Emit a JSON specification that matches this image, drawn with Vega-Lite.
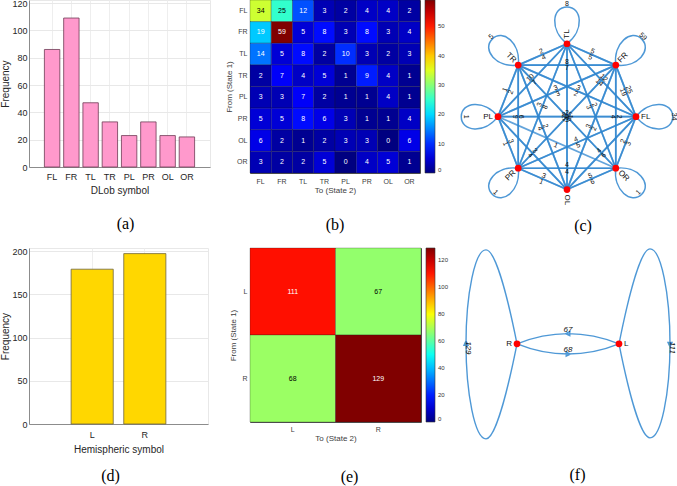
{
  "$schema": "https://vega.github.io/schema/vega-lite/v6.json",
  "background": "white",
  "padding": {"left": 0, "top": -2, "right": 0, "bottom": 0},
  "config": {
    "font": "Liberation Sans",
    "view": {"stroke": null},
    "axis": {"labelFont": "Liberation Sans", "titleFont": "Liberation Sans", "titleFontWeight": "normal", "labelColor": "#262626", "titleColor": "#262626"},
    "title": {"font": "Liberation Serif", "fontSize": 16, "fontWeight": "normal", "color": "#000000", "orient": "bottom", "frame": "group", "anchor": "middle"}
  },
  "datasets": {
    "dlob": [
      {"sym": "FL", "n": 86}, {"sym": "FR", "n": 109}, {"sym": "TL", "n": 47}, {"sym": "TR", "n": 33},
      {"sym": "PL", "n": 23}, {"sym": "PR", "n": 33}, {"sym": "OL", "n": 23}, {"sym": "OR", "n": 22}
    ],
    "trans8": [
      {"from": "FL", "to": "FL", "v": 34}, {"from": "FL", "to": "FR", "v": 25}, {"from": "FL", "to": "TL", "v": 12}, {"from": "FL", "to": "TR", "v": 3}, {"from": "FL", "to": "PL", "v": 2}, {"from": "FL", "to": "PR", "v": 4}, {"from": "FL", "to": "OL", "v": 4}, {"from": "FL", "to": "OR", "v": 2},
      {"from": "FR", "to": "FL", "v": 19}, {"from": "FR", "to": "FR", "v": 59}, {"from": "FR", "to": "TL", "v": 5}, {"from": "FR", "to": "TR", "v": 8}, {"from": "FR", "to": "PL", "v": 3}, {"from": "FR", "to": "PR", "v": 8}, {"from": "FR", "to": "OL", "v": 3}, {"from": "FR", "to": "OR", "v": 4},
      {"from": "TL", "to": "FL", "v": 14}, {"from": "TL", "to": "FR", "v": 5}, {"from": "TL", "to": "TL", "v": 8}, {"from": "TL", "to": "TR", "v": 2}, {"from": "TL", "to": "PL", "v": 10}, {"from": "TL", "to": "PR", "v": 3}, {"from": "TL", "to": "OL", "v": 2}, {"from": "TL", "to": "OR", "v": 3},
      {"from": "TR", "to": "FL", "v": 2}, {"from": "TR", "to": "FR", "v": 7}, {"from": "TR", "to": "TL", "v": 4}, {"from": "TR", "to": "TR", "v": 5}, {"from": "TR", "to": "PL", "v": 1}, {"from": "TR", "to": "PR", "v": 9}, {"from": "TR", "to": "OL", "v": 4}, {"from": "TR", "to": "OR", "v": 1},
      {"from": "PL", "to": "FL", "v": 3}, {"from": "PL", "to": "FR", "v": 3}, {"from": "PL", "to": "TL", "v": 7}, {"from": "PL", "to": "TR", "v": 2}, {"from": "PL", "to": "PL", "v": 1}, {"from": "PL", "to": "PR", "v": 1}, {"from": "PL", "to": "OL", "v": 4}, {"from": "PL", "to": "OR", "v": 1},
      {"from": "PR", "to": "FL", "v": 5}, {"from": "PR", "to": "FR", "v": 5}, {"from": "PR", "to": "TL", "v": 8}, {"from": "PR", "to": "TR", "v": 6}, {"from": "PR", "to": "PL", "v": 3}, {"from": "PR", "to": "PR", "v": 1}, {"from": "PR", "to": "OL", "v": 1}, {"from": "PR", "to": "OR", "v": 4},
      {"from": "OL", "to": "FL", "v": 6}, {"from": "OL", "to": "FR", "v": 2}, {"from": "OL", "to": "TL", "v": 1}, {"from": "OL", "to": "TR", "v": 2}, {"from": "OL", "to": "PL", "v": 3}, {"from": "OL", "to": "PR", "v": 3}, {"from": "OL", "to": "OL", "v": 0}, {"from": "OL", "to": "OR", "v": 6},
      {"from": "OR", "to": "FL", "v": 3}, {"from": "OR", "to": "FR", "v": 2}, {"from": "OR", "to": "TL", "v": 2}, {"from": "OR", "to": "TR", "v": 5}, {"from": "OR", "to": "PL", "v": 0}, {"from": "OR", "to": "PR", "v": 4}, {"from": "OR", "to": "OL", "v": 5}, {"from": "OR", "to": "OR", "v": 1}
    ],
    "nodes8": [
      {"node": "FL", "x": 1, "y": 0}, {"node": "FR", "x": 0.7071, "y": 0.7071}, {"node": "TL", "x": 0, "y": 1}, {"node": "TR", "x": -0.7071, "y": 0.7071},
      {"node": "PL", "x": -1, "y": 0}, {"node": "PR", "x": -0.7071, "y": -0.7071}, {"node": "OL", "x": 0, "y": -1}, {"node": "OR", "x": 0.7071, "y": -0.7071}
    ],
    "hemi": [{"sym": "L", "n": 179}, {"sym": "R", "n": 197}],
    "trans2": [
      {"from": "L", "to": "L", "v": 111}, {"from": "L", "to": "R", "v": 67},
      {"from": "R", "to": "L", "v": 68}, {"from": "R", "to": "R", "v": 129}
    ],
    "nodes2": [{"node": "L", "x": 1, "y": 0}, {"node": "R", "x": -1, "y": 0}]
  },
  "columns": 3,
  "bounds": "flush",
  "align": {"row": "each", "column": "none"},
  "spacing": {"row": 38, "column": 40},
  "resolve": {"scale": {"color": "independent"}, "legend": {"color": "independent"}},
  "concat": [
    {
      "width": 181, "height": 167,
      "data": {"name": "dlob"},
      "view": {"stroke": "#e8e8e8"},
      "title": {"text": "(a)", "offset": 21, "dx": 6},
      "mark": {"type": "bar", "fill": "#ff99cc", "stroke": "#6e3b55", "strokeWidth": 0.8},
      "encoding": {
        "x": {"field": "sym", "type": "nominal", "sort": null, "scale": {"paddingInner": 0.2, "paddingOuter": 0.8},
              "axis": {"title": "DLob symbol", "labelAngle": 0, "grid": true, "gridColor": "#eeeeee", "ticks": false, "domainColor": "#8c8c8c", "labelFontSize": 9, "titleFontSize": 10, "labelPadding": 5, "titlePadding": 4}},
        "y": {"field": "n", "type": "quantitative", "scale": {"domain": [0, 122.2], "nice": false},
              "axis": {"title": "Frequency", "values": [0, 20, 40, 60, 80, 100, 120], "grid": true, "gridColor": "#e8e8e8", "ticks": false, "domainColor": "#8c8c8c", "labelFontSize": 9, "titleFontSize": 10, "labelPadding": 2, "titlePadding": 1}}
      }
    },
    {
      "width": 170, "height": 173,
      "data": {"name": "trans8"},
      "view": {"stroke": "#555555", "strokeWidth": 1},
      "title": {"text": "(b)", "offset": 23, "dx": 0},
      "encoding": {
        "x": {"field": "to", "type": "nominal", "sort": ["FL", "FR", "TL", "TR", "PL", "PR", "OL", "OR"], "scale": {"padding": 0},
              "axis": {"title": "To (State 2)", "labelAngle": 0, "ticks": false, "domain": false, "labelFontSize": 7, "titleFontSize": 8, "labelColor": "#404040", "titleColor": "#404040", "labelPadding": 4, "titlePadding": 2}},
        "y": {"field": "from", "type": "nominal", "sort": ["FL", "FR", "TL", "TR", "PL", "PR", "OL", "OR"], "scale": {"padding": 0},
              "axis": {"title": "From (State 1)", "ticks": false, "domain": false, "labelFontSize": 7, "titleFontSize": 8, "labelColor": "#404040", "titleColor": "#404040", "labelPadding": 3, "titlePadding": 3}}
      },
      "layer": [
        {
          "mark": {"type": "rect", "stroke": "#1a1a1a", "strokeOpacity": 0.45, "strokeWidth": 0.6},
          "encoding": {
            "color": {"field": "v", "type": "quantitative",
                      "scale": {"domain": [0, 7.375, 22.125, 36.875, 51.625, 59], "range": ["#000080", "#0000ff", "#00ffff", "#ffff00", "#ff0000", "#800000"], "interpolate": "rgb"},
                      "legend": {"title": null, "orient": "right", "direction": "vertical", "gradientLength": 173, "gradientThickness": 10, "offset": 5, "padding": 0, "labelFontSize": 6, "labelColor": "#333333", "labelOffset": 3, "values": [0, 10, 20, 30, 40, 50], "gradientStrokeColor": "#333333", "gradientStrokeWidth": 0.6}}
          }
        },
        {
          "mark": {"type": "text", "fontSize": 7},
          "encoding": {
            "text": {"field": "v", "type": "quantitative"},
            "color": {"condition": {"test": "datum.v >= 21 && datum.v <= 45", "value": "#000000"}, "value": "#ffffff"}
          }
        }
      ]
    },
    {
      "width": 216, "height": 210,
      "title": {"text": "(c)", "offset": 8, "dx": 14},
      "layer": [
        {
          "data": {"name": "trans8"},
          "transform": [
            {"filter": "datum.v > 0"},
            {"lookup": "from", "from": {"data": {"name": "nodes8"}, "key": "node", "fields": ["x", "y"]}, "as": ["x1", "y1"]},
            {"lookup": "to", "from": {"data": {"name": "nodes8"}, "key": "node", "fields": ["x", "y"]}, "as": ["x2", "y2"]},
            {"calculate": "datum.x2 - datum.x1", "as": "dx"},
            {"calculate": "datum.y2 - datum.y1", "as": "dy"},
            {"calculate": "sqrt(datum.dx * datum.dx + datum.dy * datum.dy)", "as": "len"},
            {"calculate": "datum.len > 0 ? (datum.x1 + datum.x2) / 2 + 0.045 * datum.dy / datum.len : datum.x1", "as": "mx"},
            {"calculate": "datum.len > 0 ? (datum.y1 + datum.y2) / 2 - 0.045 * datum.dx / datum.len : datum.y1", "as": "my"},
            {"calculate": "atan2(-datum.dy, datum.dx) * 180 / PI", "as": "ea"},
            {"calculate": "datum.ea > 90 ? datum.ea - 180 : (datum.ea <= -90 ? datum.ea + 180 : datum.ea)", "as": "la"},
            {"calculate": "90 - atan2(datum.y1, datum.x1) * 180 / PI", "as": "phi"},
            {"calculate": "datum.phi > 90 ? datum.phi - 180 : (datum.phi <= -90 ? datum.phi + 180 : datum.phi)", "as": "lpa"},
            {"calculate": "datum.x1 * 1.51", "as": "lx"},
            {"calculate": "datum.y1 * 1.51", "as": "ly"}
          ],
          "layer": [
            {
              "transform": [{"filter": "datum.from != datum.to"}],
              "mark": {"type": "rule", "stroke": "#2f86cf", "strokeOpacity": 0.75, "strokeWidth": 1.7},
              "encoding": {
                "x": {"field": "x1", "type": "quantitative", "scale": {"domain": [-1.536, 1.594], "nice": false, "zero": false}, "axis": null},
                "y": {"field": "y1", "type": "quantitative", "scale": {"domain": [-1.28, 1.6], "nice": false, "zero": false}, "axis": null},
                "x2": {"field": "x2"},
                "y2": {"field": "y2"}
              }
            },
            {
              "transform": [{"filter": "datum.from == datum.to"}],
              "mark": {"type": "point", "shape": "M0,0 C-1.3,-1 -1.1,-2.7 0,-2.7 C1.1,-2.7 1.3,-1 0,0", "size": 740, "filled": false, "stroke": "#2f86cf", "strokeOpacity": 0.85, "strokeWidth": 1.5, "opacity": 1},
              "encoding": {
                "x": {"field": "x1", "type": "quantitative", "scale": {"domain": [-1.536, 1.594], "nice": false, "zero": false}, "axis": null},
                "y": {"field": "y1", "type": "quantitative", "scale": {"domain": [-1.28, 1.6], "nice": false, "zero": false}, "axis": null},
                "angle": {"field": "phi", "type": "quantitative", "scale": null}
              }
            },
            {
              "transform": [{"filter": "datum.from != datum.to"}],
              "mark": {"type": "text", "fontSize": 7, "color": "#111111", "baseline": "middle"},
              "encoding": {
                "x": {"field": "mx", "type": "quantitative", "scale": {"domain": [-1.536, 1.594], "nice": false, "zero": false}, "axis": null},
                "y": {"field": "my", "type": "quantitative", "scale": {"domain": [-1.28, 1.6], "nice": false, "zero": false}, "axis": null},
                "text": {"field": "v", "type": "quantitative"},
                "angle": {"field": "la", "type": "quantitative", "scale": null}
              }
            },
            {
              "transform": [{"filter": "datum.from == datum.to"}],
              "mark": {"type": "text", "fontSize": 7, "color": "#111111", "baseline": "bottom"},
              "encoding": {
                "x": {"field": "lx", "type": "quantitative", "scale": {"domain": [-1.536, 1.594], "nice": false, "zero": false}, "axis": null},
                "y": {"field": "ly", "type": "quantitative", "scale": {"domain": [-1.28, 1.6], "nice": false, "zero": false}, "axis": null},
                "text": {"field": "v", "type": "quantitative"},
                "angle": {"field": "lpa", "type": "quantitative", "scale": null}
              }
            }
          ]
        },
        {
          "data": {"name": "nodes8"},
          "layer": [
            {
              "mark": {"type": "circle", "fill": "#ff0000", "size": 45, "opacity": 1},
              "encoding": {
                "x": {"field": "x", "type": "quantitative", "scale": {"domain": [-1.536, 1.594], "nice": false, "zero": false}, "axis": null},
                "y": {"field": "y", "type": "quantitative", "scale": {"domain": [-1.28, 1.6], "nice": false, "zero": false}, "axis": null}
              }
            },
            {
              "transform": [{"filter": "datum.x > -0.01"}, {"calculate": "-atan2(datum.y, datum.x) * 180 / PI", "as": "na"}],
              "mark": {"type": "text", "align": "left", "baseline": "middle", "dx": 5, "fontSize": 8, "color": "#111111"},
              "encoding": {
                "x": {"field": "x", "type": "quantitative", "scale": {"domain": [-1.536, 1.594], "nice": false, "zero": false}, "axis": null},
                "y": {"field": "y", "type": "quantitative", "scale": {"domain": [-1.28, 1.6], "nice": false, "zero": false}, "axis": null},
                "text": {"field": "node"},
                "angle": {"field": "na", "type": "quantitative", "scale": null}
              }
            },
            {
              "transform": [{"filter": "datum.x < -0.01"}, {"calculate": "180 - atan2(datum.y, datum.x) * 180 / PI", "as": "na"}],
              "mark": {"type": "text", "align": "right", "baseline": "middle", "dx": -5, "fontSize": 8, "color": "#111111"},
              "encoding": {
                "x": {"field": "x", "type": "quantitative", "scale": {"domain": [-1.536, 1.594], "nice": false, "zero": false}, "axis": null},
                "y": {"field": "y", "type": "quantitative", "scale": {"domain": [-1.28, 1.6], "nice": false, "zero": false}, "axis": null},
                "text": {"field": "node"},
                "angle": {"field": "na", "type": "quantitative", "scale": null}
              }
            }
          ]
        }
      ]
    },
    {
      "width": 179, "height": 176,
      "data": {"name": "hemi"},
      "view": {"stroke": "#e8e8e8"},
      "title": {"text": "(d)", "offset": 14, "dx": -8},
      "mark": {"type": "bar", "fill": "#ffd700", "stroke": "#6f6440", "strokeWidth": 0.8},
      "encoding": {
        "x": {"field": "sym", "type": "nominal", "sort": null, "scale": {"paddingInner": 0.2, "paddingOuter": 0.8},
              "axis": {"title": "Hemispheric symbol", "labelAngle": 0, "grid": true, "gridColor": "#eeeeee", "ticks": false, "domainColor": "#8c8c8c", "labelFontSize": 9, "titleFontSize": 10, "labelPadding": 6, "titlePadding": 5}},
        "y": {"field": "n", "type": "quantitative", "scale": {"domain": [0, 203.5], "nice": false},
              "axis": {"title": "Frequency", "values": [0, 50, 100, 150, 200], "grid": true, "gridColor": "#e8e8e8", "ticks": false, "domainColor": "#8c8c8c", "labelFontSize": 9, "titleFontSize": 10, "labelPadding": 2, "titlePadding": 1}}
      }
    },
    {
      "width": 171, "height": 174,
      "data": {"name": "trans2"},
      "view": {"stroke": "#555555", "strokeWidth": 1},
      "title": {"text": "(e)", "offset": 27, "dx": 14},
      "encoding": {
        "x": {"field": "to", "type": "nominal", "sort": ["L", "R"], "scale": {"padding": 0},
              "axis": {"title": "To (State 2)", "labelAngle": 0, "ticks": false, "domain": false, "labelFontSize": 7, "titleFontSize": 8, "labelColor": "#404040", "titleColor": "#404040", "labelPadding": 3, "titlePadding": 2}},
        "y": {"field": "from", "type": "nominal", "sort": ["L", "R"], "scale": {"padding": 0},
              "axis": {"title": "From (State 1)", "ticks": false, "domain": false, "labelFontSize": 7, "titleFontSize": 8, "labelColor": "#404040", "titleColor": "#404040", "labelPadding": 3, "titlePadding": 4}}
      },
      "layer": [
        {
          "mark": {"type": "rect", "stroke": "#1a1a1a", "strokeOpacity": 0.45, "strokeWidth": 0.6},
          "encoding": {
            "color": {"field": "v", "type": "quantitative",
                      "scale": {"domain": [0, 16.125, 48.375, 80.625, 112.875, 129], "range": ["#000080", "#0000ff", "#00ffff", "#ffff00", "#ff0000", "#800000"], "interpolate": "rgb"},
                      "legend": {"title": null, "orient": "right", "direction": "vertical", "gradientLength": 174, "gradientThickness": 9, "offset": 5, "padding": 0, "labelFontSize": 6, "labelColor": "#333333", "labelOffset": 3, "values": [0, 20, 40, 60, 80, 100, 120], "gradientStrokeColor": "#333333", "gradientStrokeWidth": 0.6}}
          }
        },
        {
          "mark": {"type": "text", "fontSize": 7},
          "encoding": {
            "text": {"field": "v", "type": "quantitative"},
            "color": {"condition": {"test": "datum.v >= 45 && datum.v <= 97", "value": "#000000"}, "value": "#ffffff"}
          }
        }
      ]
    },
    {
      "width": 217, "height": 210,
      "title": {"text": "(f)", "offset": 9, "dx": 8},
      "layer": [
        {
          "data": {"name": "trans2"},
          "transform": [
            {"lookup": "from", "from": {"data": {"name": "nodes2"}, "key": "node", "fields": ["x", "y"]}, "as": ["x1", "y1"]},
            {"lookup": "to", "from": {"data": {"name": "nodes2"}, "key": "node", "fields": ["x", "y"]}, "as": ["x2", "y2"]},
            {"calculate": "datum.x2 - datum.x1", "as": "dx"},
            {"calculate": "datum.y2 - datum.y1", "as": "dy"},
            {"calculate": "sqrt(datum.dx * datum.dx + datum.dy * datum.dy)", "as": "len"},
            {"calculate": "(datum.x1 + datum.x2) / 2", "as": "cx"},
            {"calculate": "(datum.y1 + datum.y2) / 2", "as": "cy"},
            {"calculate": "datum.len > 0 ? datum.cx + 0.196 * datum.dy / datum.len : datum.x1", "as": "mx"},
            {"calculate": "datum.len > 0 ? datum.cy - 0.196 * datum.dx / datum.len : datum.y1", "as": "my"},
            {"calculate": "atan2(-datum.dy, datum.dx) * 180 / PI", "as": "ea"},
            {"calculate": "datum.ea > 90 ? datum.ea - 180 : (datum.ea <= -90 ? datum.ea + 180 : datum.ea)", "as": "la"},
            {"calculate": "90 - atan2(datum.y1, datum.x1) * 180 / PI", "as": "phi"},
            {"calculate": "datum.phi > 90 ? datum.phi - 180 : (datum.phi <= -90 ? datum.phi + 180 : datum.phi)", "as": "lpa"},
            {"calculate": "datum.x1 * 2", "as": "lx"},
            {"calculate": "datum.y1 * 2", "as": "ly"}
          ],
          "layer": [
            {
              "transform": [{"filter": "datum.from != datum.to"}],
              "mark": {"type": "point", "shape": "M-1,0 Q0,0.4 1,0 M0.05,0.2 L-0.035,0.16 L-0.035,0.24 Z", "size": 10404, "filled": false, "stroke": "#2f86cf", "strokeOpacity": 0.85, "strokeWidth": 1.4, "opacity": 1},
              "encoding": {
                "x": {"field": "cx", "type": "quantitative", "scale": {"domain": [-2.098, 2.157], "nice": false, "zero": false}, "axis": null},
                "y": {"field": "cy", "type": "quantitative", "scale": {"domain": [-2.24, 1.88], "nice": false, "zero": false}, "axis": null},
                "angle": {"field": "ea", "type": "quantitative", "scale": null}
              }
            },
            {
              "transform": [{"filter": "datum.from == datum.to"}],
              "mark": {"type": "point", "shape": "M0,0 C1,-0.2 1.88,-0.44 1.88,-0.62 C1.88,-0.84 1,-1.02 0,-1.02 C-1,-1.02 -1.9,-0.84 -1.9,-0.62 C-1.9,-0.44 -1,-0.2 0,0 M0.06,-1.02 L-0.03,-1.06 L-0.03,-0.98 Z", "size": 10000, "filled": false, "stroke": "#2f86cf", "strokeOpacity": 0.85, "strokeWidth": 1.4, "opacity": 1},
              "encoding": {
                "x": {"field": "x1", "type": "quantitative", "scale": {"domain": [-2.098, 2.157], "nice": false, "zero": false}, "axis": null},
                "y": {"field": "y1", "type": "quantitative", "scale": {"domain": [-2.24, 1.88], "nice": false, "zero": false}, "axis": null},
                "angle": {"field": "phi", "type": "quantitative", "scale": null}
              }
            },
            {
              "transform": [{"filter": "datum.from != datum.to"}],
              "mark": {"type": "text", "fontSize": 8, "fontStyle": "italic", "color": "#111111", "baseline": "bottom"},
              "encoding": {
                "x": {"field": "mx", "type": "quantitative", "scale": {"domain": [-2.098, 2.157], "nice": false, "zero": false}, "axis": null},
                "y": {"field": "my", "type": "quantitative", "scale": {"domain": [-2.24, 1.88], "nice": false, "zero": false}, "axis": null},
                "text": {"field": "v", "type": "quantitative"},
                "angle": {"field": "la", "type": "quantitative", "scale": null}
              }
            },
            {
              "transform": [{"filter": "datum.from == datum.to"}],
              "mark": {"type": "text", "fontSize": 8, "fontStyle": "italic", "color": "#111111", "baseline": "alphabetic", "dx": 4},
              "encoding": {
                "x": {"field": "lx", "type": "quantitative", "scale": {"domain": [-2.098, 2.157], "nice": false, "zero": false}, "axis": null},
                "y": {"field": "ly", "type": "quantitative", "scale": {"domain": [-2.24, 1.88], "nice": false, "zero": false}, "axis": null},
                "text": {"field": "v", "type": "quantitative"},
                "angle": {"field": "lpa", "type": "quantitative", "scale": null}
              }
            }
          ]
        },
        {
          "data": {"name": "nodes2"},
          "layer": [
            {
              "mark": {"type": "circle", "fill": "#ff0000", "size": 45, "opacity": 1},
              "encoding": {
                "x": {"field": "x", "type": "quantitative", "scale": {"domain": [-2.098, 2.157], "nice": false, "zero": false}, "axis": null},
                "y": {"field": "y", "type": "quantitative", "scale": {"domain": [-2.24, 1.88], "nice": false, "zero": false}, "axis": null}
              }
            },
            {
              "transform": [{"filter": "datum.x > -0.01"}],
              "mark": {"type": "text", "align": "left", "baseline": "middle", "dx": 5, "fontSize": 8, "color": "#111111"},
              "encoding": {
                "x": {"field": "x", "type": "quantitative", "scale": {"domain": [-2.098, 2.157], "nice": false, "zero": false}, "axis": null},
                "y": {"field": "y", "type": "quantitative", "scale": {"domain": [-2.24, 1.88], "nice": false, "zero": false}, "axis": null},
                "text": {"field": "node"}
              }
            },
            {
              "transform": [{"filter": "datum.x < -0.01"}],
              "mark": {"type": "text", "align": "right", "baseline": "middle", "dx": -5, "fontSize": 8, "color": "#111111"},
              "encoding": {
                "x": {"field": "x", "type": "quantitative", "scale": {"domain": [-2.098, 2.157], "nice": false, "zero": false}, "axis": null},
                "y": {"field": "y", "type": "quantitative", "scale": {"domain": [-2.24, 1.88], "nice": false, "zero": false}, "axis": null},
                "text": {"field": "node"}
              }
            }
          ]
        }
      ]
    }
  ]
}
